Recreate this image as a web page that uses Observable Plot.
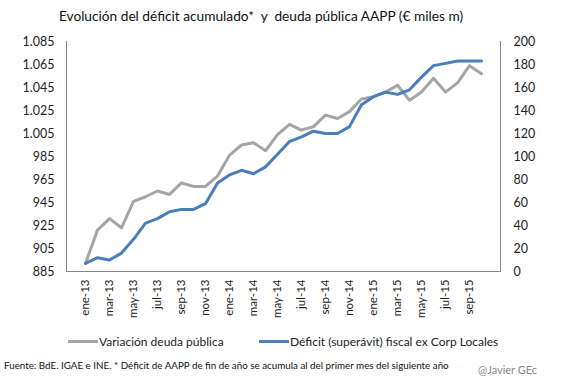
<!DOCTYPE html>
<html>
<head>
<meta charset="utf-8">
<script src="https://cdn.jsdelivr.net/npm/d3@7"></script>
<script src="https://cdn.jsdelivr.net/npm/@observablehq/plot@0.6"></script>
<style>
  html, body { margin: 0; padding: 0; background: #fff; }
  #wrap { position: relative; width: 567px; height: 378px; font-family: Lato, "Open Sans", sans-serif; }
  #title { position: absolute; left: 0; top: 7px; width: 522px; text-align: center; font-size: 13.7px; color: #111; white-space: pre; }
  .leg { position: absolute; top: 334px; font-size: 12px; color: #222; white-space: nowrap; display: flex; align-items: center; }
  .leg span.sw { display: inline-block; width: 30px; height: 3px; margin-right: 1px; }
  #source { position: absolute; left: 4px; top: 359px; font-size: 9.8px; color: #111; white-space: nowrap; }
  #author { position: absolute; left: 478px; top: 363px; font-size: 11px; color: #888; white-space: nowrap; }
</style>
</head>
<body>
<div id="wrap">
  <div id="chart"></div>
  <div id="title">Evolución del déficit acumulado*  y  deuda pública AAPP (€ miles m)</div>
  <div class="leg" style="left:68px"><span class="sw" style="background:#A5A5A5"></span>Variación deuda pública</div>
  <div class="leg" style="left:259px"><span class="sw" style="background:#4F81BD"></span>Déficit (superávit) fiscal ex Corp Locales</div>
  <div id="source">Fuente: BdE. IGAE e INE. * Déficit de AAPP de fin de año se acumula al del primer mes del siguiente año</div>
  <div id="author">@Javier GEc</div>
</div>
<script>
const months = [
  "ene-13","feb-13","mar-13","abr-13","may-13","jun-13","jul-13","ago-13","sep-13","oct-13","nov-13","dic-13",
  "ene-14","feb-14","mar-14","abr-14","may-14","jun-14","jul-14","ago-14","sep-14","oct-14","nov-14","dic-14",
  "ene-15","feb-15","mar-15","abr-15","may-15","jun-15","jul-15","ago-15","sep-15","oct-15"
];
// Left axis (deuda, miles de millones)
const deuda = [892, 921, 931, 923, 946, 950, 955, 952, 962, 959, 959, 968,
               986, 995, 997, 990, 1004, 1013, 1008, 1011, 1021, 1018, 1024, 1035,
               1037, 1041, 1047, 1034, 1041, 1053, 1041, 1049, 1064, 1057];
// Right axis (déficit acumulado)
const deficit = [7, 12, 10, 16, 28, 42, 46, 52, 54, 54, 59, 77,
                 84, 88, 85, 91, 102, 113, 117, 122, 120, 120, 126, 145,
                 152, 156, 154, 158, 169, 179, 181, 183, 183, 183];
const leftTicks = [885, 905, 925, 945, 965, 985, 1005, 1025, 1045, 1065, 1085];
const rightTicks = [0, 20, 40, 60, 80, 100, 120, 140, 160, 180, 200];
const labelMonths = months.filter((d, i) => i % 2 === 0);

const leftMin = leftTicks[0];
const deudaRows = months.map((m, i) => ({m, v: deuda[i] - leftMin}));
const defRows = months.map((m, i) => ({m, v: deficit[i]}));
const fmtLeft = d => { const v = d + leftMin; return v >= 1000 ? Math.floor(v/1000) + "." + String(v % 1000).padStart(3, "0") : String(v); };

const chart = Plot.plot({
  width: 567,
  height: 378,
  marginLeft: 66,
  marginRight: 67,
  marginTop: 41,
  marginBottom: 107,
  style: {fontFamily: "Lato, 'Open Sans', sans-serif", fontSize: "12px", color: "#222", background: "transparent"},
  x: {type: "point", domain: months, padding: 0.5},
  y: {domain: [0, 200]},
  marks: [
    Plot.frame({anchor: "left", stroke: "#868686"}),
    Plot.frame({anchor: "right", stroke: "#868686"}),
    Plot.frame({anchor: "bottom", stroke: "#868686"}),
    Plot.axisY(rightTicks, {anchor: "left", tickSize: 0, tickPadding: 12, tickFormat: fmtLeft, label: null, fontSize: 12.5}),
    Plot.axisY(rightTicks, {anchor: "right", tickSize: 0, tickPadding: 13, label: null, fontSize: 12.5}),
    Plot.axisX(labelMonths, {anchor: "bottom", tickSize: 0, tickRotate: -90, tickPadding: 8, label: null, fontSize: 11.5}),
    Plot.line(deudaRows, {x: "m", y: "v", stroke: "#A5A5A5", strokeWidth: 3, strokeLinejoin: "round"}),
    Plot.line(defRows, {x: "m", y: "v", stroke: "#4A7EBB", strokeWidth: 3, strokeLinejoin: "round"})
  ]
});
document.getElementById("chart").appendChild(chart);
</script>
</body>
</html>
